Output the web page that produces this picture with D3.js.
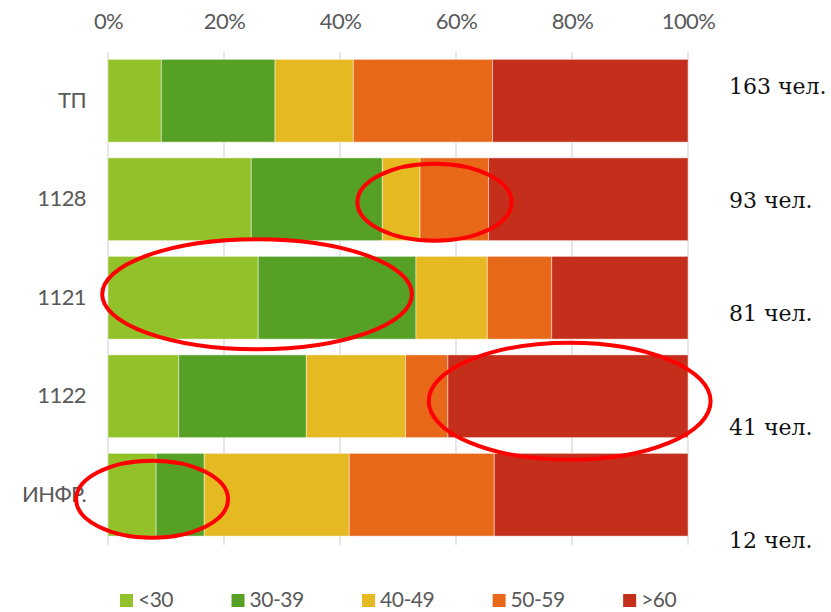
<!DOCTYPE html>
<html>
<head>
<meta charset="utf-8">
<script src="https://cdn.jsdelivr.net/npm/d3@7/dist/d3.min.js"></script>
<style>
  html, body { margin: 0; padding: 0; background: #fff; }
  svg { display: block; }
</style>
</head>
<body>
<svg id="chart" width="831" height="612"></svg>
<script>
// Age structure of staff by division, shares in percent
const categories = ["ТП", "1128", "1121", "1122", "ИНФР."];
const ageGroups = ["<30", "30-39", "40-49", "50-59", ">60"];
const shareUnder30 = [9.2, 24.7, 25.9, 12.2, 8.3];
const share30to39  = [19.6, 22.6, 27.2, 22.0, 8.3];
const share40to49  = [13.5, 6.5, 12.3, 17.1, 25.0];
const share50to59  = [24.0, 11.8, 11.1, 7.3, 25.0];
const shareOver60  = [33.7, 34.4, 23.5, 41.4, 33.4];
const headcount    = [163, 93, 81, 41, 12];
const tickValues   = [0, 20, 40, 60, 80, 100];
const groupColors  = ["#93c12a", "#56a125", "#e5b921", "#e86819", "#c42f1b"];

// Highlighted areas: division, centre (percent), horizontal radius (percent)
const highlightCategory = ["1128", "1121", "1122", "ИНФР."];
const highlightCenter   = [56.3, 25.7, 79.6, 7.6];
const highlightRadius   = [13.3, 26.7, 24.3, 13.1];

const seriesValues = [shareUnder30, share30to39, share40to49, share50to59, shareOver60];
const table = categories.map((c, i) => {
  const row = { category: c };
  ageGroups.forEach((g, k) => { row[g] = seriesValues[k][i]; });
  return row;
});

const svg = d3.select("#chart");
const sansFont = "Lato, 'Open Sans', sans-serif";

const x = d3.scaleLinear().domain([0, 100]).range([108, 688]);
const y = d3.scaleBand().domain(categories).range([51.5, 544]).paddingInner(0.16).paddingOuter(0.08);
const color = d3.scaleOrdinal().domain(ageGroups).range(groupColors);

// vertical gridlines
svg.append("g")
  .selectAll("line")
  .data(tickValues)
  .join("line")
  .attr("x1", d => x(d)).attr("x2", d => x(d))
  .attr("y1", 52).attr("y2", 545)
  .attr("stroke", "#d9d9d9")
  .attr("stroke-width", 1.3);

// top axis labels
const axisTop = d3.axisTop(x).tickValues(tickValues).tickFormat(d => d + "%").tickSize(0).tickPadding(0);
const gAxis = svg.append("g").attr("transform", "translate(0,29)").call(axisTop);
gAxis.select(".domain").remove();
gAxis.selectAll("text")
  .attr("font-family", sansFont)
  .attr("font-size", 22)
  .attr("letter-spacing", "-0.6px")
  .attr("fill", "#595959")
  .attr("dy", 0);

// stacked bars
const stacked = d3.stack().keys(ageGroups)(table);
svg.append("g")
  .selectAll("g")
  .data(stacked)
  .join("g")
  .attr("fill", d => color(d.key))
  .selectAll("rect")
  .data(d => d)
  .join("rect")
  .attr("x", d => x(d[0]))
  .attr("width", d => x(d[1]) - x(d[0]))
  .attr("y", d => y(d.data.category))
  .attr("height", y.bandwidth())
  .attr("stroke", "rgba(255,255,255,0.45)")
  .attr("stroke-width", 1);

// category labels
const axisLeft = d3.axisLeft(y).tickSize(0).tickPadding(0);
const gLeft = svg.append("g").attr("transform", "translate(86,0)").call(axisLeft);
gLeft.select(".domain").remove();
gLeft.selectAll("text")
  .attr("font-family", sansFont)
  .attr("font-size", 22)
  .attr("letter-spacing", "-0.6px")
  .attr("fill", "#595959");

// headcount labels on the right
const yCount = d3.scalePoint().domain(categories).range([94, 548]);
svg.append("g")
  .selectAll("text")
  .data(categories)
  .join("text")
  .attr("x", 729)
  .attr("y", d => yCount(d))
  .attr("font-family", "'DejaVu Serif', 'Liberation Serif', serif")
  .attr("font-size", 22)
  .attr("fill", "#111")
  .text((d, i) => headcount[i] + " чел.");

// highlight ellipses
const highlightOffset = [3, -3.5, 5, 4.5];
const highlightRy = [38.5, 55, 58.5, 38.5];
svg.append("g")
  .selectAll("ellipse")
  .data(highlightCategory)
  .join("ellipse")
  .attr("cx", (d, i) => x(highlightCenter[i]))
  .attr("cy", (d, i) => y(d) + y.bandwidth() / 2 + highlightOffset[i])
  .attr("rx", (d, i) => x(highlightRadius[i]) - x(0))
  .attr("ry", (d, i) => highlightRy[i])
  .attr("fill", "none")
  .attr("stroke", "#ff0000")
  .attr("stroke-width", 4);

// legend
const legend = svg.append("g").attr("transform", "translate(120,0)");
let offset = 0;
ageGroups.forEach(g => {
  const item = legend.append("g").attr("transform", `translate(${offset},0)`);
  item.append("rect")
    .attr("x", 0).attr("y", 594)
    .attr("width", 13).attr("height", 13)
    .attr("fill", color(g));
  const t = item.append("text")
    .attr("x", 18).attr("y", 607)
    .attr("font-family", sansFont)
    .attr("font-size", 21)
    .attr("letter-spacing", "-0.5px")
    .attr("fill", "#595959")
    .text(g);
  offset += 18 + t.node().getComputedTextLength() + 58.5;
});
</script>
</body>
</html>
